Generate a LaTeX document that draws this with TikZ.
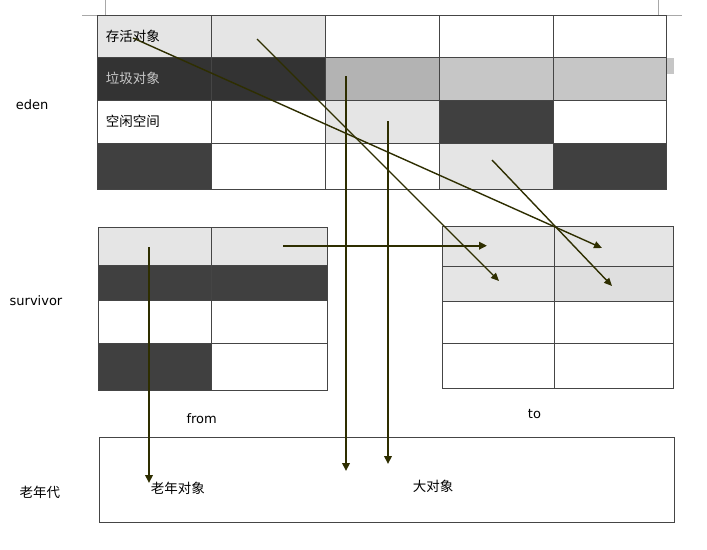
\documentclass[tikz,border=0pt]{standalone}
\usepackage{fontspec}
\setmainfont{DejaVu Sans}
\newfontfamily\cjk{Noto Sans CJK SC}
\usetikzlibrary{arrows.meta}
\definecolor{bordc}{HTML}{454545}
\definecolor{lite}{HTML}{E5E5E5}
\definecolor{lite2}{HTML}{DFDFDF}
\definecolor{darkc}{HTML}{404040}
\definecolor{darker}{HTML}{333333}
\definecolor{midg}{HTML}{B3B3B3}
\definecolor{midg2}{HTML}{C6C6C6}
\definecolor{arr}{HTML}{2E2E00}
\definecolor{markc}{HTML}{A8A8A8}
\tikzset{
  cell/.style={draw=bordc, line width=1pt, inner sep=0pt, outer sep=0pt, anchor=north west},
  lbl/.style={inner sep=0pt, font=\fontsize{13}{15}\selectfont},
  clbl/.style={inner sep=0pt, anchor=west, font=\fontsize{13.5}{15}\selectfont\cjk},
  flow/.style={draw=arr, line width=1.4pt, -{Triangle[length=8pt,width=7pt]}},
  flowthick/.style={draw=arr, line width=2pt, -{Triangle[length=8pt,width=7.5pt]}},
  cornermark/.style={draw=markc, line width=0.8pt}
}
\newcommand{\mkcell}[6]{% name, x1, y1, x2, y2, fill
  \node[cell, fill=#6, minimum width={(#4-#2)*1pt}, minimum height={(#5-#3)*1pt}] (#1) at (#2,#3) {};}
\begin{document}
\begin{tikzpicture}[x=1pt,y=-1pt]
\useasboundingbox[fill=white] (0,0) rectangle (707,549);
% page corner marks
\draw[cornermark] (105.7,0) -- (105.7,15) -- (82,15);
\draw[cornermark] (658.7,0) -- (658.7,15) -- (682,15);
\fill[midg2] (666.7,58) rectangle (674,74);
% eden grid
\mkcell{e11}{97}{15}{211}{57}{lite}
\mkcell{e12}{211}{15}{325}{57}{lite}
\mkcell{e13}{325}{15}{439}{57}{white}
\mkcell{e14}{439}{15}{553}{57}{white}
\mkcell{e15}{553}{15}{666}{57}{white}
\mkcell{e21}{97}{57}{211}{100}{darker}
\mkcell{e22}{211}{57}{325}{100}{darker}
\mkcell{e23}{325}{57}{439}{100}{midg}
\mkcell{e24}{439}{57}{553}{100}{midg2}
\mkcell{e25}{553}{57}{666}{100}{midg2}
\mkcell{e31}{97}{100}{211}{143}{white}
\mkcell{e32}{211}{100}{325}{143}{white}
\mkcell{e33}{325}{100}{439}{143}{lite}
\mkcell{e34}{439}{100}{553}{143}{darkc}
\mkcell{e35}{553}{100}{666}{143}{white}
\mkcell{e41}{97}{143}{211}{189}{darkc}
\mkcell{e42}{211}{143}{325}{189}{white}
\mkcell{e43}{325}{143}{439}{189}{white}
\mkcell{e44}{439}{143}{553}{189}{lite}
\mkcell{e45}{553}{143}{666}{189}{darkc}
% survivor from
\mkcell{f11}{98}{227}{211}{265}{lite}
\mkcell{f12}{211}{227}{327}{265}{lite}
\mkcell{f21}{98}{265}{211}{300.7}{darkc}
\mkcell{f22}{211}{265}{327}{300.7}{darkc}
\mkcell{f31}{98}{300.7}{211}{343}{white}
\mkcell{f32}{211}{300.7}{327}{343}{white}
\mkcell{f41}{98}{343}{211}{390}{darkc}
\mkcell{f42}{211}{343}{327}{390}{white}
% survivor to
\mkcell{t11}{442}{226}{554}{266}{lite}
\mkcell{t12}{554}{226}{673}{266}{lite}
\mkcell{t21}{442}{266}{554}{301}{lite}
\mkcell{t22}{554}{266}{673}{301}{lite2}
\mkcell{t31}{442}{301}{554}{343}{white}
\mkcell{t32}{554}{301}{673}{343}{white}
\mkcell{t41}{442}{343}{554}{388}{white}
\mkcell{t42}{554}{343}{673}{388}{white}
% old generation box
\mkcell{old}{99}{437}{674}{522}{white}
% cell texts
\node[clbl] (live) at (105.7,36) {存活对象};
\node[clbl, text=midg2] (garb) at (105.7,78) {垃圾对象};
\node[clbl] (free) at (105.7,121) {空闲空间};
\node[clbl] (oldobj) at (150.7,488) {老年对象};
\node[clbl] (bigobj) at (412.7,486) {大对象};
% side labels
\node[lbl] (eden) at (32,105) {eden};
\node[lbl] (surv) at (36,300.7) {survivor};
\node[lbl, font=\fontsize{13.5}{15}\selectfont\cjk] (oldgen) at (40,492) {老年代};
\node[lbl] (from) at (201.7,419) {from};
\node[lbl] (to) at (534.5,414) {to};
% arrow endpoints
\coordinate (a0) at (133,38);  \coordinate (a1) at (602,248);
\coordinate (b0) at (257,39);  \coordinate (b1) at (499,281);
\coordinate (c0) at (492,160); \coordinate (c1) at (612,286);
\coordinate (d0) at (283,245.7); \coordinate (d1) at (487,245.7);
\coordinate (g0) at (149,247); \coordinate (g1) at (149,483);
\coordinate (h0) at (346,76);  \coordinate (h1) at (346,471);
\coordinate (k0) at (388,121); \coordinate (k1) at (388,464);
\draw[flow] (a0) -- (a1);
\draw[flow] (b0) -- (b1);
\draw[flow] (c0) -- (c1);
\draw[flowthick] (d0) -- (d1);
\draw[flowthick] (g0) -- (g1);
\draw[flowthick] (h0) -- (h1);
\draw[flowthick] (k0) -- (k1);
\end{tikzpicture}
\end{document}
